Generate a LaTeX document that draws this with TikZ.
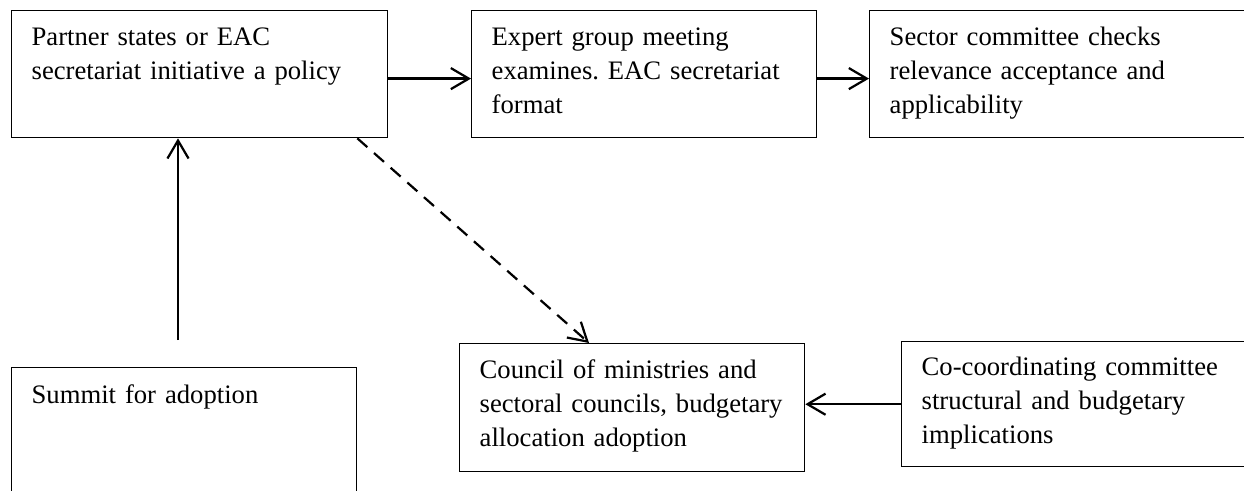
\documentclass[tikz,border=0pt]{standalone}
\usepackage{fontspec}
\setmainfont{Liberation Serif}
\usetikzlibrary{calc,arrows.meta}
\frenchspacing

\begin{document}
\begin{tikzpicture}[x=0.45pt,y=-0.45pt,>={Straight Barb[length=8.1pt,width=9.5pt]},
  box/.style 2 args={draw,line width=0.6pt,anchor=north west,align=left,
    inner xsep=9pt,inner ysep=0pt,text width=#1,text height=15.75pt,text depth=#2,
    font=\fontsize{12}{15.3}\selectfont},
  link/.style={line width=1pt,->}]
  % Frame
  \useasboundingbox (0,0) rectangle (1244,491);
  \clip (0,0) rectangle (1244,491);
  %
  % Top row
  \node[box={151.2pt}{41.4pt}] (partner) at (11,10)
    {Partner states or EAC\\secretariat initiative a policy};
  \node[box={137.25pt}{41.4pt}] (expert) at (471,10)
    {Expert group meeting\\examines. EAC secretariat\\format};
  \node[box={162pt}{41.4pt}] (sector) at (869,10)
    {Sector committee checks\\relevance acceptance and\\applicability};
  %
  % Bottom row
  \node[box={137.25pt}{51.3pt},text height=16.2pt] (summit) at (11,367)
    {Summit for adoption};
  \node[box={137.25pt}{41.85pt}] (council) at (459,343)
    {Council of ministries and\\sectoral councils, budgetary\\allocation adoption};
  \node[box={162pt}{41pt},text height=15.3pt] (cocoord) at (901,341)
    {Co-coordinating committee\\structural and budgetary\\implications};
  %
  % Arrows
  \draw[link] ([yshift=-2pt]partner.east) -- ([yshift=-2pt]expert.west);
  \draw[link] ([yshift=-2pt]expert.east) -- ([yshift=-2pt]sector.west);
  \draw[link] (cocoord.west) -- (cocoord.west -| council.east);
  \coordinate (foot) at (178,340);
  \draw[link] (foot) -- (foot |- partner.south);
  \draw[link,dash pattern=on 6pt off 4pt] ($(partner.south east)+(-31,0)$)
    -- ($(council.north west)+(130,0)$);
  %
\end{tikzpicture}
\end{document}
